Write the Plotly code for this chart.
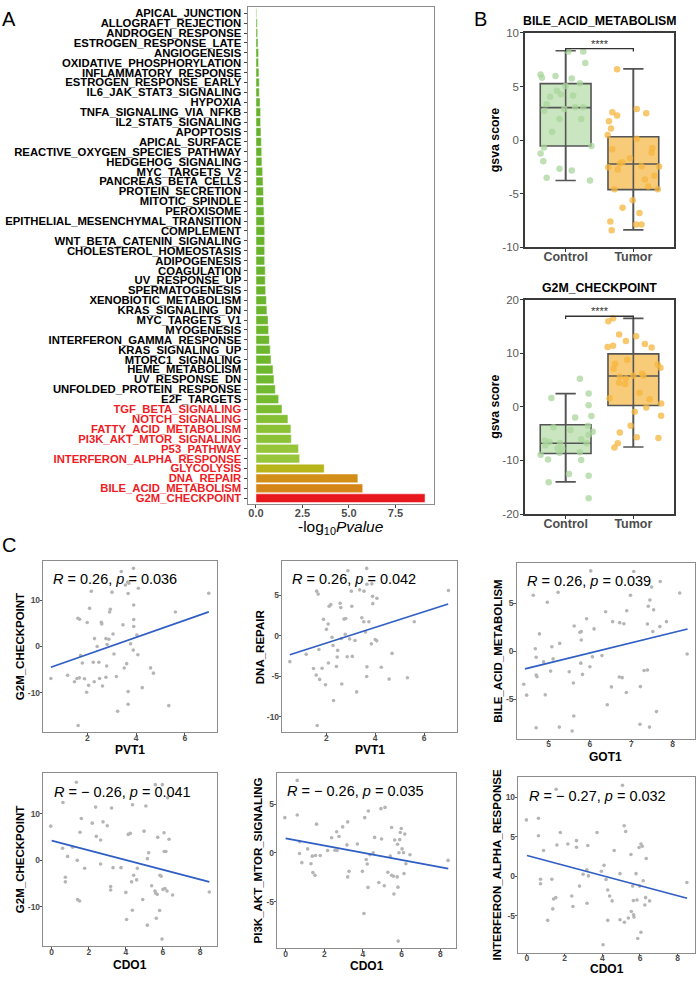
import plotly.graph_objects as go

W, H = 697, 981
FONT = "Liberation Sans, Arial, sans-serif"

# ---------------- Panel A data ----------------
pathways = [
    "APICAL_JUNCTION", "ALLOGRAFT_REJECTION", "ANDROGEN_RESPONSE", "ESTROGEN_RESPONSE_LATE",
    "ANGIOGENESIS", "OXIDATIVE_PHOSPHORYLATION", "INFLAMMATORY_RESPONSE", "ESTROGEN_RESPONSE_EARLY",
    "IL6_JAK_STAT3_SIGNALING", "HYPOXIA", "TNFA_SIGNALING_VIA_NFKB", "IL2_STAT5_SIGNALING",
    "APOPTOSIS", "APICAL_SURFACE", "REACTIVE_OXYGEN_SPECIES_PATHWAY", "HEDGEHOG_SIGNALING",
    "MYC_TARGETS_V2", "PANCREAS_BETA_CELLS", "PROTEIN_SECRETION", "MITOTIC_SPINDLE", "PEROXISOME",
    "EPITHELIAL_MESENCHYMAL_TRANSITION", "COMPLEMENT", "WNT_BETA_CATENIN_SIGNALING",
    "CHOLESTEROL_HOMEOSTASIS", "ADIPOGENESIS", "COAGULATION", "UV_RESPONSE_UP", "SPERMATOGENESIS",
    "XENOBIOTIC_METABOLISM", "KRAS_SIGNALING_DN", "MYC_TARGETS_V1", "MYOGENESIS",
    "INTERFERON_GAMMA_RESPONSE", "KRAS_SIGNALING_UP", "MTORC1_SIGNALING", "HEME_METABOLISM",
    "UV_RESPONSE_DN", "UNFOLDED_PROTEIN_RESPONSE", "E2F_TARGETS", "TGF_BETA_SIGNALING",
    "NOTCH_SIGNALING", "FATTY_ACID_METABOLISM", "PI3K_AKT_MTOR_SIGNALING", "P53_PATHWAY",
    "INTERFERON_ALPHA_RESPONSE", "GLYCOLYSIS", "DNA_REPAIR", "BILE_ACID_METABOLISM", "G2M_CHECKPOINT"]
neglog10p = [0.04, 0.07, 0.09, 0.11, 0.14, 0.14, 0.16, 0.18, 0.18, 0.22, 0.25, 0.25, 0.27, 0.29,
             0.31, 0.32, 0.36, 0.38, 0.40, 0.41, 0.43, 0.45, 0.47, 0.47, 0.47, 0.47, 0.50, 0.50,
             0.52, 0.56, 0.59, 0.65, 0.68, 0.72, 0.77, 0.81, 0.92, 0.97, 1.04, 1.22, 1.40, 1.72,
             1.88, 1.90, 2.29, 2.35, 3.67, 5.48, 5.74, 9.09]
highlighted = ["TGF_BETA_SIGNALING", "NOTCH_SIGNALING", "FATTY_ACID_METABOLISM",
               "PI3K_AKT_MTOR_SIGNALING", "P53_PATHWAY", "INTERFERON_ALPHA_RESPONSE",
               "GLYCOLYSIS", "DNA_REPAIR", "BILE_ACID_METABOLISM", "G2M_CHECKPOINT"]
a_xticks = [0, 2.5, 5.0, 7.5]
a_xticklabels = ["0.0", "2.5", "5.0", "7.5"]

# ---------------- Panel B data ----------------
groups = ["Control", "Tumor"]
group_pos = [1, 2]
bile_q1 = [-0.54, -4.62]
bile_median = [3.03, -2.23]
bile_q3 = [5.27, 0.32]
bile_lower = [-3.76, -8.37]
bile_upper = [8.34, 6.65]
bile_ctrl_x = [1.04, 1.26, 0.63, 0.65, 0.85, 1.29, 1.09, 1.21, 1.0, 0.87, 0.93, 0.77, 1.11, 0.72, 0.68,
               0.98, 1.14, 1.26, 1.23, 0.91, 0.80, 0.68, 1.38, 0.63, 0.67, 0.91, 1.09, 0.72, 1.36]
bile_ctrl_y = [8.28, 8.28, 6.13, 5.82, 5.98, 7.2, 5.76, 5.3, 5.05, 4.62, 4.29, 4.04, 4.16, 3.36, 2.75,
               2.9, 3.06, 3.06, 1.98, 1.98, 0.78, -0.69, -0.54, -1.24, -1.98, -2.66, -2.84, -3.52, -3.76]
bile_tum_x = [1.76, 1.69, 1.76, 1.64, 2.19, 2.05, 1.67, 1.62, 2.05, 1.69, 2.28, 2.27, 1.95, 1.84, 1.80,
              2.12, 1.63, 1.77, 2.38, 2.31, 2.17, 2.22, 2.36, 1.72, 1.99, 1.84, 2.09, 1.66, 2.04, 2.12, 1.68]
bile_tum_y = [6.62, 2.6, 2.29, 1.77, 2.5, 2.9, 1.09, 0.48, 0.14, -0.85, -0.75, -1.18, -1.70, -2.07, -2.17,
              -2.44, -2.53, -2.75, -2.47, -3.33, -3.67, -4.32, -4.59, -4.59, -5.61, -6.31, -6.80, -7.60,
              -7.88, -7.88, -8.4]
g2m_q1 = [-8.7, 0.25]
g2m_median = [-6.79, 5.74]
g2m_q3 = [-3.33, 9.88]
g2m_lower = [-14.0, -7.5]
g2m_upper = [2.47, 16.5]
g2m_ctrl_x = [1.21, 0.79, 1.34, 1.34, 1.38, 1.14, 0.82, 1.33, 1.40, 1.07, 1.34, 1.23, 0.69, 0.76, 0.92,
              1.31, 0.70, 0.88, 0.95, 0.91, 1.21, 0.63, 0.74, 1.23, 1.05, 1.34, 0.75, 1.34]
g2m_ctrl_y = [5.25, 1.67, 2.47, 0.31, -1.73, -1.98, -3.83, -3.52, -4.63, -4.32, -5.19, -6.05, -6.30,
              -6.54, -6.73, -6.79, -7.16, -7.72, -7.84, -8.58, -8.46, -8.95, -9.81, -9.94, -12.53,
              -12.84, -14.07, -17.04]
g2m_tum_x = [1.63, 1.70, 1.79, 2.04, 1.89, 1.62, 1.70, 2.17, 2.27, 1.73, 1.91, 2.36, 2.40, 1.71, 2.13,
             2.15, 2.00, 1.80, 1.89, 1.79, 1.88, 2.09, 1.65, 2.24, 2.41, 2.19, 2.02, 2.41, 1.96, 1.80,
             2.37, 2.05, 1.77, 1.72]
g2m_tum_y = [15.99, 16.54, 13.52, 13.15, 12.28, 11.17, 11.42, 11.73, 11.05, 8.02, 8.77, 7.90, 7.28,
             7.10, 6.17, 5.80, 5.80, 5.62, 5.31, 4.51, 4.26, 2.65, 1.60, 1.42, 0.62, -0.12, -0.93,
             -1.67, -3.52, -4.81, -5.80, -5.68, -6.79, -7.59]
sig_label = "****"
bile_bracket_y = 8.53
g2m_bracket_y = 16.9

# ---------------- Panel C data ----------------
c1_x = [0.50, 1.19, 1.47, 1.57, 1.67, 1.61, 1.68, 1.62, 1.72, 1.79, 1.88, 1.99, 1.97, 2.05, 2.09, 2.16,
        2.24, 2.28, 2.29, 2.40, 2.47, 2.50, 2.57, 2.59, 2.62, 2.76, 2.79, 2.76, 2.81, 2.88, 2.94, 2.91,
        3.01, 3.05, 3.09, 3.19, 3.24, 3.39, 3.46, 3.51, 3.56, 3.61, 3.65, 3.67, 3.67, 3.67, 3.70, 3.77,
        3.88, 3.89, 3.90, 3.90, 3.90, 4.03, 4.09, 4.07, 4.25, 4.59, 4.71, 5.34, 5.61, 6.98]
c1_y = [-6.92, -6.21, -7.63, -6.92, -6.78, 6.11, 5.89, -17.1, -1.93, -3.57, -6.99, 5.18, -9.9, -8.41,
        8.25, 11.96, -3.42, -7.63, 1.70, 0.0, -3.42, -6.92, 5.25, 4.89, -8.55, -6.64, -4.23, 1.70, 0.42,
        1.56, 8.04, 7.47, 11.75, 2.70, -1.64, -6.49, -14.0, 16.2, 4.68, -4.66, 13.3, -3.71, 13.93, 11.47,
        -9.76, -12.5, 13.7, 0.57, -0.78, 16.9, 8.98, 5.82, 4.33, 2.48, 12.6, -1.78, -8.91, -4.63, -5.77,
        -12.8, 7.47, 11.5]
c1_fit_x = [0.50, 6.98]
c1_fit_y = [-4.49, 7.48]

c2_x = [0.50, 1.17, 1.47, 1.58, 1.60, 1.66, 1.69, 1.72, 1.62, 1.82, 1.88, 1.96, 2.0, 2.07, 2.08, 2.11,
        2.18, 2.23, 2.27, 2.29, 2.41, 2.44, 2.46, 2.56, 2.59, 2.61, 2.63, 2.72, 2.79, 2.77, 2.85, 2.88,
        2.95, 3.02, 3.04, 3.06, 3.17, 3.24, 3.36, 3.45, 3.53, 3.54, 3.60, 3.65, 3.66, 3.65, 3.66, 3.74,
        3.84, 3.86, 3.90, 3.89, 4.0, 4.06, 4.07, 4.25, 4.69, 4.57, 5.32, 5.6, 7.0]
c2_y = [-3.22, -2.32, -4.07, -4.88, 5.48, 5.12, -1.72, -5.41, -11.1, -4.03, 2.0, -6.06, 0.77, 1.42,
        -3.38, 3.61, 3.82, -0.20, -1.22, -8.01, -3.82, -2.65, -1.83, 3.98, 3.45, -0.37, -5.98, 2.03,
        2.11, 0.16, -2.61, 8.0, -0.41, 5.48, 3.61, -2.57, -0.61, -6.95, 5.64, 2.19, 1.70, 5.48, 0.45,
        -5.05, -3.86, 8.29, 6.34, 1.70, -1.02, 6.38, 3.94, 4.84, -0.49, -0.65, 4.59, -3.90, -2.20,
        -5.37, -5.2, 1.70, 5.56]
c2_fit_x = [0.50, 6.99]
c2_fit_y = [-2.36, 3.9]

c3_x = [4.40, 4.47, 4.63, 4.68, 4.70, 4.70, 4.72, 4.70, 4.78, 4.88, 4.92, 4.97, 5.05, 5.08, 5.11, 5.23,
        5.26, 5.27, 5.50, 5.57, 5.61, 5.60, 5.62, 5.76, 5.79, 5.79, 5.78, 5.82, 5.92, 6.00, 6.02, 6.06,
        6.10, 6.29, 6.38, 6.42, 6.52, 6.55, 6.71, 6.72, 6.78, 6.82, 6.88, 6.89, 6.98, 7.06, 7.22, 7.21,
        7.31, 7.39, 7.39, 7.41, 7.44, 7.45, 7.49, 7.52, 7.54, 7.61, 7.69, 7.70, 7.85, 8.17, 8.35]
c3_y = [-3.43, -4.56, 5.82, 0.26, -0.62, -2.47, -2.64, -7.95, 1.81, -1.10, -4.53, 5.10, -2.06, 0.47,
        -0.79, 6.13, -7.88, 0.82, -2.13, -8.29, -6.72, -3.29, 2.63, 1.98, 2.05, 1.17, -1.23, -2.40, 3.39,
        -1.61, 8.36, -0.58, 2.33, -0.45, 4.11, -5.55, -3.70, 3.08, -2.67, 2.98, -2.74, 2.87, -4.28, 4.21,
        5.82, 8.29, -3.67, -7.58, -1.99, -1.95, 2.84, 4.69, -7.88, 5.34, 6.68, 2.05, 4.31, -6.27, 2.57,
        7.26, 3.08, 6.06, -0.28]
c3_fit_x = [4.43, 8.36]
c3_fit_y = [-1.82, 2.32]

c4_x = [-0.05, 0.61, 0.59, 0.74, 0.74, 0.86, 1.13, 1.33, 1.38, 1.40, 1.51, 1.53, 1.60, 1.78, 2.19, 2.37,
        2.41, 2.64, 2.64, 2.77, 3.0, 3.23, 3.18, 3.18, 3.31, 3.74, 4.0, 4.04, 4.13, 4.24, 4.31, 4.36,
        4.35, 4.42, 4.58, 4.62, 4.91, 4.98, 5.08, 5.16, 5.23, 5.16, 5.39, 5.57, 5.60, 5.64, 5.69, 5.59,
        5.72, 5.84, 5.90, 5.82, 5.95, 6.0, 5.97, 6.06, 6.07, 6.16, 6.11, 6.22, 6.25, 6.33, 6.52, 8.5]
c4_y = [7.31, 12.4, 2.56, -3.68, -4.68, 0.79, 2.77, 16.74, -0.06, -8.5, -8.79, 6.0, 8.94, -1.77, 7.95,
        11.4, 5.11, 4.33, -0.84, 8.23, 7.38, 11.21, -5.67, -6.45, -1.63, -1.63, -6.95, -12.8, 5.53, 5.74,
        -4.68, 11.9, -10.8, -3.26, -4.26, -1.77, -8.5, 6.23, 11.65, 0.31, 1.58, -14.0, -5.53, -6.66,
        -7.09, -12.5, -7.37, 16.24, 4.89, -3.26, -3.47, -10.86, -17.0, -6.31, 16.24, 5.88, 1.84, 1.84,
        -6.10, -6.66, 13.4, 4.47, -7.51, -6.88]
c4_fit_x = [0.0, 8.5]
c4_fit_y = [4.19, -4.7]

c5_x = [-0.04, 0.60, 0.60, 0.72, 0.84, 0.72, 1.14, 1.31, 1.38, 1.41, 1.52, 1.55, 1.60, 1.79, 2.17, 2.38,
        2.55, 2.64, 2.76, 2.95, 2.66, 3.17, 3.21, 3.21, 3.28, 3.71, 3.97, 4.05, 4.09, 4.17, 4.22, 4.26,
        4.28, 4.36, 4.53, 4.60, 4.82, 4.93, 4.96, 5.10, 5.14, 5.29, 5.41, 5.48, 5.48, 5.57, 5.60, 5.64,
        5.77, 5.79, 5.81, 5.82, 5.86, 5.90, 5.93, 5.98, 6.02, 6.10, 6.12, 6.16, 6.22, 6.43, 8.40]
c5_y = [3.61, 7.43, 3.88, -0.07, -1.01, 1.15, 0.40, -1.12, -0.34, -2.03, -2.30, -0.27, 2.94, -0.27, 0.24,
        1.55, 0.27, 2.16, 1.68, 2.66, 0.24, 0.81, 3.17, -2.47, -1.90, 0.91, -1.90, -6.22, 3.61, -0.68,
        -1.15, -3.55, 4.29, -0.20, 0.0, 1.58, -3.05, 4.53, 1.42, -3.38, 4.66, -1.99, -0.34, 2.60, -2.30,
        -2.40, -4.23, 1.31, -2.47, 0.88, -3.52, -9.06, 0.0, 1.35, 2.09, 2.50, 0.40, 0.0, -2.13, 1.92,
        -1.12, -0.20, -0.78]
c5_fit_x = [0.0, 8.41]
c5_fit_y = [1.48, -1.62]

c6_x = [-0.03, 0.61, 0.61, 0.72, 0.72, 0.88, 1.10, 1.32, 1.37, 1.41, 1.53, 1.55, 1.59, 1.77, 2.17, 2.38,
        2.44, 2.63, 2.63, 2.79, 2.98, 3.18, 3.19, 3.23, 3.26, 3.72, 3.95, 4.04, 4.09, 4.20, 4.29, 4.29,
        4.39, 4.52, 4.63, 4.94, 4.94, 5.07, 5.16, 5.17, 5.24, 5.38, 5.52, 5.54, 5.61, 5.65, 5.66, 5.68,
        5.79, 5.84, 5.88, 5.95, 5.98, 6.05, 6.05, 6.12, 6.17, 6.30, 6.33, 6.26, 6.51, 8.49]
c6_y = [7.13, 7.33, 5.13, -0.38, -0.96, 3.25, -5.58, -0.38, -4.13, -2.88, -2.71, 11.0, 3.96, 5.54, 4.08,
        -2.50, -3.83, 4.5, 3.67, -1.25, 0.25, 0.83, -3.42, 3.88, 0.04, 5.54, 0.63, -8.66, 1.38, -0.42,
        -1.75, -5.58, -2.50, -3.12, 3.25, 0.33, -5.5, 11.5, 6.38, -5.83, 5.67, -5.29, 2.75, -4.46, -1.25,
        -3.08, -4.88, -5.17, 0.33, -3.0, -7.88, 3.63, -1.25, 4.08, -7.08, 3.79, -0.58, -2.71, 2.25, -3.63,
        -3.12, -0.79]
c6_fit_x = [0.0, 8.5]
c6_fit_y = [2.62, -2.79]

c_genes = ["PVT1", "PVT1", "GOT1", "CDO1", "CDO1", "CDO1"]
c_sets = ["G2M_CHECKPOINT", "DNA_REPAIR", "BILE_ACID_METABOLISM",
          "G2M_CHECKPOINT", "PI3K_AKT_MTOR_SIGNALING", "INTERFERON_ALPHA_RESPONSE"]
c_R = ["0.26", "0.26", "0.26", "\u2212 0.26", "\u2212 0.26", "\u2212 0.27"]
c_p = ["0.036", "0.042", "0.039", "0.041", "0.035", "0.032"]

# ---------------- helpers ----------------
def xd(l, r):
    return [l / W, r / W]


def yd(t, b):
    return [1 - b / H, 1 - t / H]


def px(v):
    return v / W


def py(v):
    return 1 - v / H


def tlabels(vals):
    # ASCII hyphen for negative numbers, as in the reference
    return [f"{v:g}" for v in vals]


fig = go.Figure()
layout = dict(width=W, height=H, margin=dict(l=0, r=0, t=0, b=0), paper_bgcolor="white",
              plot_bgcolor="white", showlegend=False, boxmode="overlay", bargap=0.12,
              font=dict(family=FONT, color="black"))
annotations = []

# ---------------- Panel A ----------------
fig.add_trace(go.Bar(
    x=neglog10p, y=pathways, orientation="h", xaxis="x", yaxis="y",
    marker=dict(color=neglog10p, cmin=0, cmax=max(neglog10p),
                colorscale=[[0, "#62b02a"], [0.12, "#72b92e"], [0.26, "#98c63a"],
                            [0.40, "#b7b61a"], [0.60, "#d38f17"], [1, "#e8161d"]],
                line=dict(color="white", width=0.5)),
    hoverinfo="skip"))
ticktext = [f"<span style='color:#ee1c25'>{p}</span>" if p in highlighted else p for p in pathways]
amax = max(neglog10p)
layout["xaxis"] = dict(domain=xd(247.5, 433.5), range=[-0.05 * amax, 1.05 * amax], anchor="y",
                       tickvals=a_xticks, ticktext=a_xticklabels, ticks="outside", ticklen=3,
                       tickcolor="#444", showline=True, mirror=True, linecolor="#8c8c8c",
                       linewidth=1, showgrid=False, zeroline=False, ticklabelstandoff=-4,
                       tickfont=dict(size=11, color="#4d4d4d", weight="bold"))
layout["yaxis"] = dict(domain=yd(1.3, 504.3), type="category", categoryorder="array",
                       categoryarray=pathways, range=[len(pathways) - 0.4, -0.6], anchor="x",
                       tickvals=pathways, ticktext=ticktext, ticks="outside", ticklen=3,
                       tickcolor="#444", showline=True, mirror=True, linecolor="#8c8c8c",
                       linewidth=1, showgrid=False, zeroline=False,
                       tickfont=dict(size=11.3, color="black", weight="bold"))
annotations.append(dict(text="-log<sub>10</sub><i>Pvalue</i>", x=px(341), y=py(528), xref="paper",
                        yref="paper", showarrow=False, font=dict(size=15.5, color="black"),
                        xanchor="center", yanchor="middle"))
annotations.append(dict(text="A", x=px(9), y=py(13.5), xref="paper", yref="paper", showarrow=False,
                        font=dict(size=20, color="black"), xanchor="center", yanchor="middle"))

# ---------------- Panel B ----------------
ctrl_fill, ctrl_pt = "#c9e6c0", "#a9d69b"
tum_fill, tum_pt = "#f7cb78", "#f5b63d"
b_panels = [
    dict(ax="2", title="BILE_ACID_METABOLISM", box=(525, 674, 27.3, 244.3), yr=[-10, 10],
         yt=[-10, -5, 0, 5, 10], q1=bile_q1, med=bile_median, q3=bile_q3, lo=bile_lower,
         hi=bile_upper, cx=bile_ctrl_x, cy=bile_ctrl_y, tx=bile_tum_x, ty=bile_tum_y,
         br=bile_bracket_y, tip=0.25, tt=15),
    dict(ax="3", title="G2M_CHECKPOINT", box=(525, 674, 297.3, 514.3), yr=[-20, 20],
         yt=[-20, -10, 0, 10, 20], q1=g2m_q1, med=g2m_median, q3=g2m_q3, lo=g2m_lower,
         hi=g2m_upper, cx=g2m_ctrl_x, cy=g2m_ctrl_y, tx=g2m_tum_x, ty=g2m_tum_y,
         br=g2m_bracket_y, tip=0.5, tt=285),
]
for bp in b_panels:
    xa, ya = "x" + bp["ax"], "y" + bp["ax"]
    fills = [ctrl_fill, tum_fill]
    pts = [(bp["cx"], bp["cy"], ctrl_pt), (bp["tx"], bp["ty"], tum_pt)]
    for i in range(2):
        fig.add_trace(go.Scatter(x=[group_pos[i], group_pos[i]], y=[bp["lo"][i], bp["hi"][i]],
                                 mode="lines", line=dict(color="#555555", width=1.6),
                                 xaxis=xa, yaxis=ya, hoverinfo="skip"))
    for i in range(2):
        fig.add_trace(go.Box(x=[group_pos[i]], q1=[bp["q1"][i]], median=[bp["med"][i]],
                             q3=[bp["q3"][i]], lowerfence=[bp["lo"][i]], upperfence=[bp["hi"][i]],
                             width=0.75, whiskerwidth=0.4, fillcolor=fills[i],
                             line=dict(color="#555555", width=1.6), boxpoints=False,
                             xaxis=xa, yaxis=ya, hoverinfo="skip"))
    for (xx, yy, col) in pts:
        fig.add_trace(go.Scatter(x=xx, y=yy, mode="markers",
                                 marker=dict(size=6.5, color=col, opacity=0.75, line=dict(width=0)),
                                 xaxis=xa, yaxis=ya, hoverinfo="skip"))
    # significance bracket
    fig.add_trace(go.Scatter(x=[group_pos[0], group_pos[0], group_pos[1], group_pos[1]],
                             y=[bp["br"] - bp["tip"], bp["br"], bp["br"], bp["br"] - bp["tip"]],
                             mode="lines", line=dict(color="#333333", width=1.3),
                             xaxis=xa, yaxis=ya, hoverinfo="skip"))
    annotations.append(dict(text=sig_label, x=1.5, y=bp["br"], xref=xa, yref=ya, showarrow=False,
                            font=dict(size=11, color="#333333"), xanchor="center",
                            yanchor="bottom", yshift=-3))
    l, r, t, b = bp["box"]
    layout["xaxis" + bp["ax"]] = dict(domain=xd(l, r), range=[0.4, 2.6], anchor=ya,
                                      tickvals=group_pos, ticktext=groups, ticks="outside",
                                      ticklen=3, tickcolor="#333", showline=True, mirror=True,
                                      linecolor="#3a3a3a", linewidth=1.5, showgrid=False,
                                      zeroline=False, ticklabelstandoff=-6,
                                      tickfont=dict(size=12.5, color="#4d4d4d", weight="bold"))
    layout["yaxis" + bp["ax"]] = dict(domain=yd(t, b), range=bp["yr"], anchor=xa,
                                      tickvals=bp["yt"], ticktext=tlabels(bp["yt"]),
                                      ticks="outside", ticklen=3,
                                      tickcolor="#333", showline=True, mirror=True,
                                      linecolor="#3a3a3a", linewidth=1.5, showgrid=False,
                                      zeroline=False, ticklabelstandoff=-1,
                                      tickfont=dict(size=11.5, color="#595959"))
    annotations.append(dict(text="<b>" + bp["title"] + "</b>", x=px((l + r) / 2), y=py(bp["tt"]),
                            xref="paper", yref="paper", showarrow=False,
                            font=dict(size=12.3, color="black"), xanchor="center", yanchor="middle"))
    annotations.append(dict(text="<b>gsva score</b>", x=px(495), y=py((t + b) / 2), xref="paper",
                            yref="paper", showarrow=False, textangle=-90,
                            font=dict(size=12.3, color="black"), xanchor="center", yanchor="middle"))
annotations.append(dict(text="B", x=px(480.5), y=py(13.5), xref="paper", yref="paper",
                        showarrow=False, font=dict(size=20, color="black"),
                        xanchor="center", yanchor="middle"))

# ---------------- Panel C ----------------
c_data = [(c1_x, c1_y, c1_fit_x, c1_fit_y), (c2_x, c2_y, c2_fit_x, c2_fit_y),
          (c3_x, c3_y, c3_fit_x, c3_fit_y), (c4_x, c4_y, c4_fit_x, c4_fit_y),
          (c5_x, c5_y, c5_fit_x, c5_fit_y), (c6_x, c6_y, c6_fit_x, c6_fit_y)]
c_layout = [
    dict(box=(43.3, 217.3, 562.3, 735), xr=[0.19, 7.33], yr=[-18.5, 18.4], xt=[2, 4, 6],
         yt=[-10, 0, 10], lab=(51, 580), xtit=753, ytit=19.5),
    dict(box=(282.3, 456.7, 562.3, 735), xr=[0.19, 7.34], yr=[-11.9, 9.15], xt=[2, 4, 6],
         yt=[-10, -5, 0, 5], lab=(290, 580), xtit=753, ytit=259.5),
    dict(box=(516.7, 695, 564, 741.7), xr=[4.23, 8.54], yr=[-9.08, 9.17], xt=[5, 6, 7, 8],
         yt=[-5, 0, 5], lab=(525, 581.7), xtit=760, ytit=498),
    dict(box=(43.3, 217.3, 776.7, 951.7), xr=[-0.45, 8.93], yr=[-18.5, 18.7], xt=[0, 2, 4, 6, 8],
         yt=[-10, 0, 10], lab=(51.7, 796), xtit=970.5, ytit=19.5),
    dict(box=(277.3, 456, 776, 954), xr=[-0.43, 8.81], yr=[-9.8, 8.24], xt=[0, 2, 4, 6, 8],
         yt=[-5, 0, 5], lab=(285, 795), xtit=971.5, ytit=258),
    dict(box=(518.3, 695, 781, 958.3), xr=[-0.46, 8.92], yr=[-9.66, 12.5], xt=[0, 2, 4, 6, 8],
         yt=[-5, 0, 5, 10], lab=(526.7, 800), xtit=974.5, ytit=497.5),
]
for k in range(6):
    n = str(k + 4)
    xa, ya = "x" + n, "y" + n
    xx, yy, fx, fy = c_data[k]
    cl = c_layout[k]
    fig.add_trace(go.Scatter(x=xx, y=yy, mode="markers",
                             marker=dict(size=3.6, color="#b5b5b5", line=dict(width=0)),
                             xaxis=xa, yaxis=ya, hoverinfo="skip"))
    fig.add_trace(go.Scatter(x=fx, y=fy, mode="lines", line=dict(color="#2f5ec4", width=1.7),
                             xaxis=xa, yaxis=ya, hoverinfo="skip"))
    l, r, t, b = cl["box"]
    layout["xaxis" + n] = dict(domain=xd(l, r), range=cl["xr"], anchor=ya, tickvals=cl["xt"],
                               ticktext=tlabels(cl["xt"]),
                               ticks="outside", ticklen=2.5, tickcolor="#555", showline=True,
                               mirror=True, linecolor="#8c8c8c", linewidth=1, showgrid=False,
                               zeroline=False, ticklabelstandoff=-5,
                               tickfont=dict(size=8.5, color="#4d4d4d", weight="bold"))
    layout["yaxis" + n] = dict(domain=yd(t, b), range=cl["yr"], anchor=xa, tickvals=cl["yt"],
                               ticktext=tlabels(cl["yt"]),
                               ticks="outside", ticklen=2.5, tickcolor="#555", showline=True,
                               mirror=True, linecolor="#8c8c8c", linewidth=1, showgrid=False,
                               zeroline=False, ticklabelstandoff=-2,
                               tickfont=dict(size=8.5, color="#4d4d4d", weight="bold"))
    annotations.append(dict(text=f"<i>R</i> = {c_R[k]}, <i>p</i> = {c_p[k]}", x=px(cl["lab"][0]),
                            y=py(cl["lab"][1]), xref="paper", yref="paper", showarrow=False,
                            font=dict(size=14.5, color="black"), xanchor="left", yanchor="middle"))
    annotations.append(dict(text="<b>" + c_genes[k] + "</b>", x=px((l + r) / 2), y=py(cl["xtit"]),
                            xref="paper", yref="paper", showarrow=False,
                            font=dict(size=12, color="black"), xanchor="center", yanchor="middle"))
    annotations.append(dict(text="<b>" + c_sets[k] + "</b>", x=px(cl["ytit"]), y=py((t + b) / 2),
                            xref="paper", yref="paper", showarrow=False, textangle=-90,
                            font=dict(size=11.5, color="black"), xanchor="center",
                            yanchor="middle"))
annotations.append(dict(text="C", x=px(9), y=py(545.5), xref="paper", yref="paper",
                        showarrow=False, font=dict(size=20, color="black"),
                        xanchor="center", yanchor="middle"))

layout["annotations"] = annotations
fig.update_layout(**layout)
fig.write_html("out.html")
